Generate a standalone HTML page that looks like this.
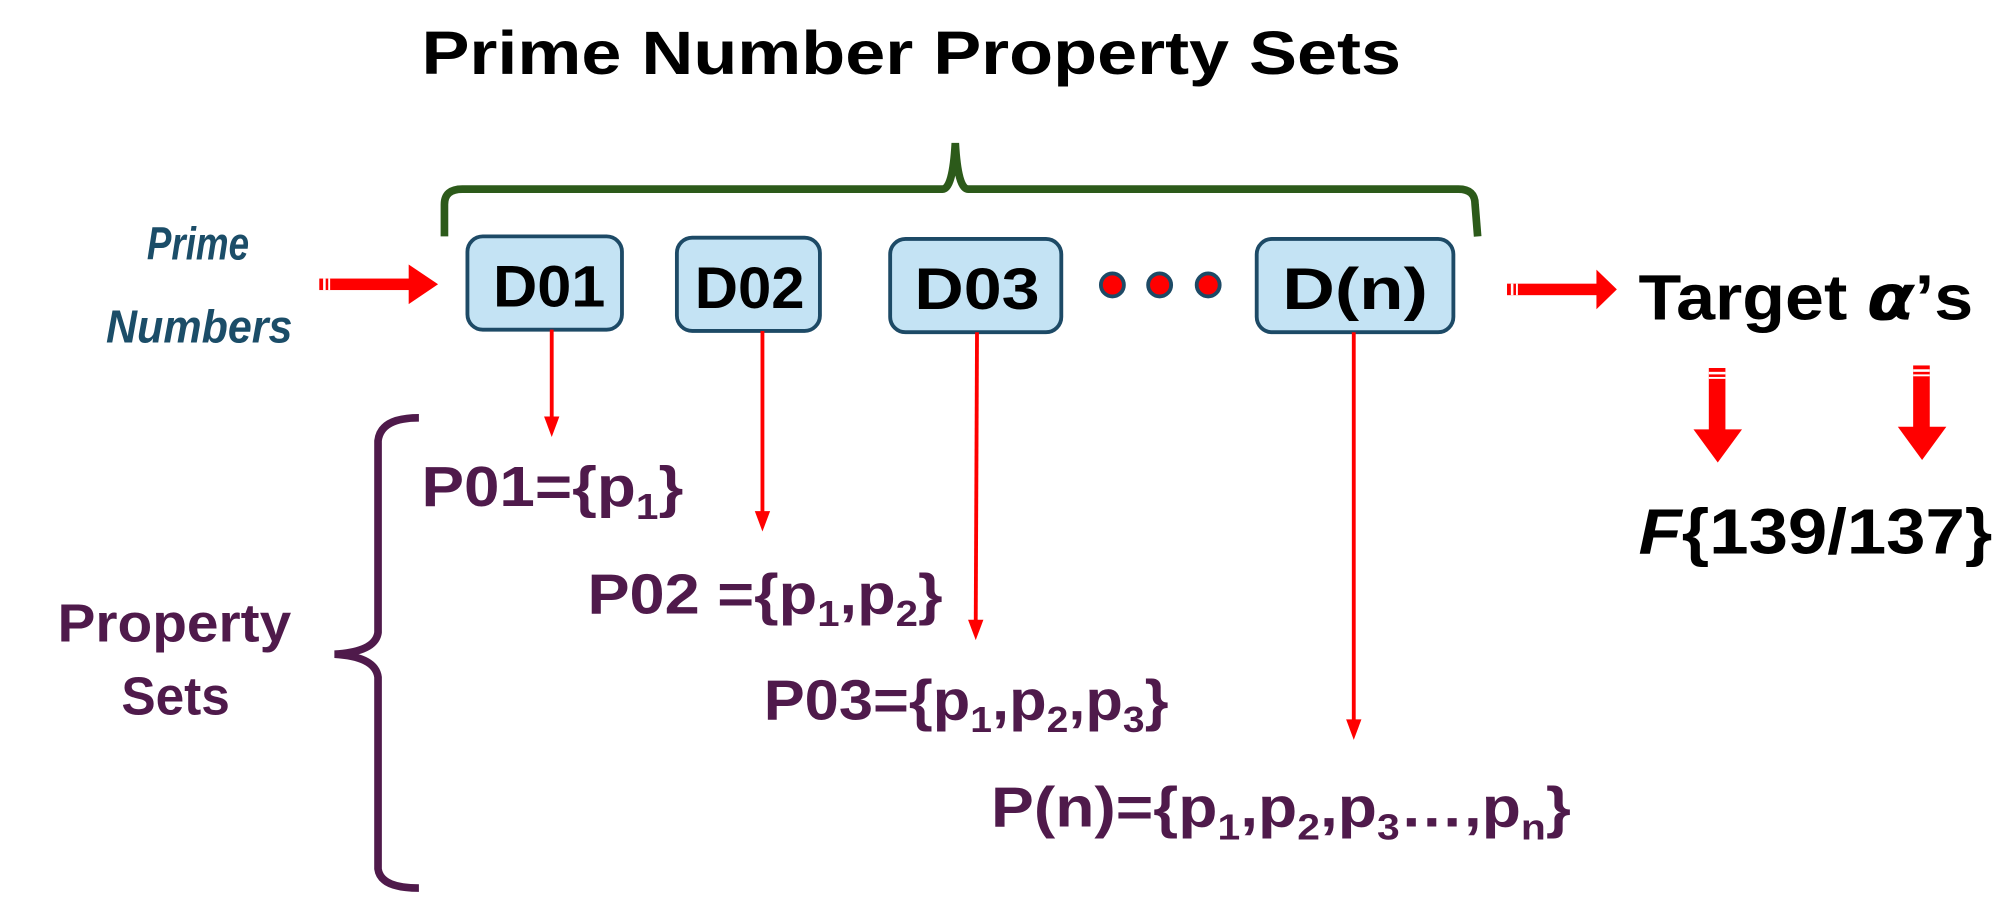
<!DOCTYPE html>
<html><head><style>html,body{margin:0;padding:0;background:#fff}svg{display:block}</style></head>
<body>
<svg width="2000" height="920" viewBox="0 0 1566 720" preserveAspectRatio="none" xmlns="http://www.w3.org/2000/svg" font-family="Liberation Sans, sans-serif" font-weight="bold">
<text x="330" y="58" font-size="48" textLength="767" lengthAdjust="spacingAndGlyphs" fill="#000">Prime Number Property Sets</text>
<path d="M348 185 L348 160 Q348 148 362 148 L738 148 Q746 148 748 112 Q750 148 758 148 L1142 148 Q1155 148 1155 160 L1157 185" fill="none" stroke="#2c5a1a" stroke-width="6"/>
<text x="155" y="203" font-size="36" font-style="italic" fill="#1b4d68" text-anchor="middle" textLength="80" lengthAdjust="spacingAndGlyphs">Prime</text>
<text x="156" y="268" font-size="36" font-style="italic" fill="#1b4d68" text-anchor="middle" textLength="146" lengthAdjust="spacingAndGlyphs">Numbers</text>
<rect x="250" y="218" width="72" height="9" fill="#f00"/>
<rect x="253" y="218" width="2" height="9" fill="#fff"/><rect x="257" y="218" width="1.5" height="9" fill="#fff"/>
<polygon points="320,207 343,222.5 320,238" fill="#f00"/>
<g stroke="#1d4a66" stroke-width="3" fill="#c4e3f4">
<rect x="366" y="185" width="121" height="73" rx="12"/>
<rect x="530" y="186" width="112" height="73" rx="12"/>
<rect x="697" y="187" width="134" height="73" rx="12"/>
<rect x="984" y="187" width="154" height="73" rx="12"/>
</g>
<g font-size="46" fill="#000">
<text x="386" y="240" textLength="88" lengthAdjust="spacingAndGlyphs">D01</text>
<text x="544" y="241" textLength="86" lengthAdjust="spacingAndGlyphs">D02</text>
<text x="716" y="242" textLength="98" lengthAdjust="spacingAndGlyphs">D03</text>
<text x="1004" y="242" textLength="114" lengthAdjust="spacingAndGlyphs">D(n)</text>
</g>
<g fill="#f00" stroke="#1d4a66" stroke-width="3">
<circle cx="871" cy="223" r="9"/><circle cx="908" cy="223" r="9"/><circle cx="946" cy="223" r="9"/>
</g>
<rect x="1180" y="222" width="72" height="9" fill="#f00"/>
<rect x="1183" y="222" width="2" height="9" fill="#fff"/><rect x="1187" y="222" width="1.5" height="9" fill="#fff"/>
<polygon points="1250,211 1266,226.5 1250,242" fill="#f00"/>
<text x="1283" y="250" font-size="50" fill="#000" textLength="262" lengthAdjust="spacingAndGlyphs">Target <tspan font-style="italic" font-family="DejaVu Sans, sans-serif">α</tspan>’s</text>
<rect x="1338" y="288" width="13" height="50" fill="#f00"/>
<rect x="1338" y="291" width="13" height="2" fill="#fff"/><rect x="1338" y="295" width="13" height="1.5" fill="#fff"/>
<polygon points="1326,336 1364,336 1345,362" fill="#f00"/>
<rect x="1498" y="286" width="13" height="50" fill="#f00"/>
<rect x="1498" y="289" width="13" height="2" fill="#fff"/><rect x="1498" y="293" width="13" height="1.5" fill="#fff"/>
<polygon points="1486,334 1524,334 1505,360" fill="#f00"/>
<text x="1283" y="433" font-size="50" fill="#000" textLength="277" lengthAdjust="spacingAndGlyphs"><tspan font-style="italic">F</tspan>{139/137}</text>
<g stroke="#f00" stroke-width="3">
<line x1="432" y1="258" x2="432" y2="328"/>
<line x1="597" y1="259" x2="597" y2="402"/>
<line x1="765" y1="260" x2="764" y2="487"/>
<line x1="1060" y1="260" x2="1060" y2="565"/>
</g>
<g fill="#f00">
<polygon points="426,326 438,326 432,342"/>
<polygon points="591,400 603,400 597,416"/>
<polygon points="758,485 770,485 764,501"/>
<polygon points="1054,563 1066,563 1060,579"/>
</g>
<path d="M328 327 Q298 327 296 345 L296 495 Q294 510 262 512 Q294 514 296 530 L296 680 Q298 695 328 695" fill="none" stroke="#4f1a4b" stroke-width="6"/>
<text x="45" y="502" font-size="42" fill="#4f1a4b" textLength="183" lengthAdjust="spacingAndGlyphs">Property</text>
<text x="95" y="559" font-size="42" fill="#4f1a4b" textLength="85" lengthAdjust="spacingAndGlyphs">Sets</text>
<g fill="#4f1a4b" font-size="44">
<text x="330" y="396" textLength="205" lengthAdjust="spacingAndGlyphs">P01={p<tspan font-size="28" dy="10">1</tspan><tspan dy="-10">}</tspan></text>
<text x="460" y="480" textLength="278" lengthAdjust="spacingAndGlyphs">P02 ={p<tspan font-size="28" dy="10">1</tspan><tspan dy="-10">,p</tspan><tspan font-size="28" dy="10">2</tspan><tspan dy="-10">}</tspan></text>
<text x="598" y="563" textLength="317" lengthAdjust="spacingAndGlyphs">P03={p<tspan font-size="28" dy="10">1</tspan><tspan dy="-10">,p</tspan><tspan font-size="28" dy="10">2</tspan><tspan dy="-10">,p</tspan><tspan font-size="28" dy="10">3</tspan><tspan dy="-10">}</tspan></text>
<text x="776" y="647" textLength="454" lengthAdjust="spacingAndGlyphs">P(n)={p<tspan font-size="28" dy="10">1</tspan><tspan dy="-10">,p</tspan><tspan font-size="28" dy="10">2</tspan><tspan dy="-10">,p</tspan><tspan font-size="28" dy="10">3</tspan><tspan dy="-10">…,p</tspan><tspan font-size="28" dy="10">n</tspan><tspan dy="-10">}</tspan></text>
</g>
</svg>
</body></html>
